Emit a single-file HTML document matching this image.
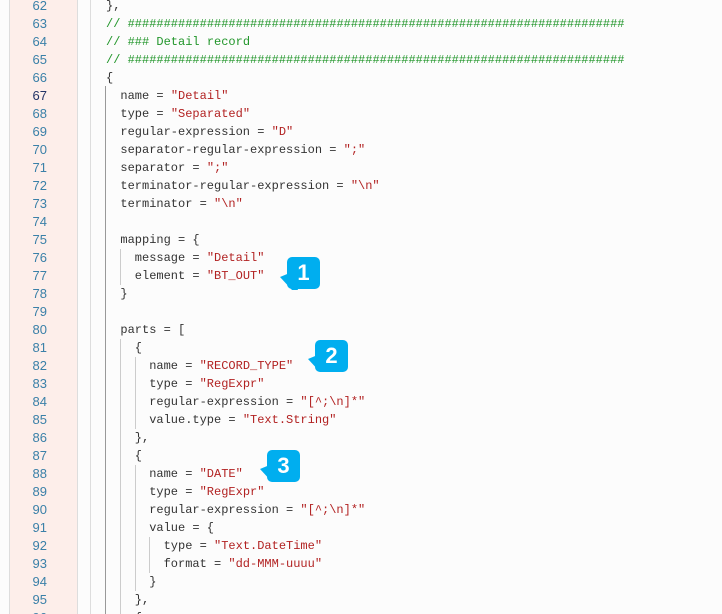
<!DOCTYPE html>
<html><head><meta charset="utf-8"><style>
html,body{margin:0;width:722px;height:614px;overflow:hidden;}
body{background:#fcfcfc;position:relative;font-family:"Liberation Mono","DejaVu Sans Mono",monospace;font-size:12px;}
.g{position:absolute;left:9px;top:0;width:67px;height:614px;background:#fdeeea;border-left:1px solid #ddd;border-right:1px solid #ddd;}
.n{position:absolute;left:0;width:47px;text-align:right;color:#3a80a8;height:18px;line-height:18px;font-family:"Liberation Sans",sans-serif;font-size:13px;}
.l{position:absolute;height:18px;line-height:18px;color:#333;white-space:pre;}
.s{color:#b22222}.c{color:#22962b}
.v{position:absolute;width:1px;background:#ccc;}
.b{position:absolute;width:33px;height:32px;background:#00aeef;border-radius:5px;color:#fff;font-family:"Liberation Sans",sans-serif;font-weight:bold;font-size:22px;text-align:center;line-height:32px;}
</style></head><body>
<div class="g"></div>
<div class="v" style="left:90px;top:0;height:614px;background:#ddd"></div>
<div class="v" style="left:105px;top:86px;height:528px;background:#999"></div>
<div class="v" style="left:120px;top:249px;height:36px"></div>
<div class="v" style="left:120px;top:339px;height:275px"></div>
<div class="v" style="left:135px;top:357px;height:72px"></div>
<div class="v" style="left:135px;top:465px;height:126px"></div>
<div class="v" style="left:149px;top:537px;height:36px"></div>
<div id="c"></div>
<script>
var L=[
[0,'},'],
[0,'<span class="c">// '+'#'.repeat(69)+'</span>'],
[0,'<span class="c">// ### Detail record</span>'],
[0,'<span class="c">// '+'#'.repeat(69)+'</span>'],
[0,'{'],
[1,'name = <span class="s">"Detail"</span>'],
[1,'type = <span class="s">"Separated"</span>'],
[1,'regular-expression = <span class="s">"D"</span>'],
[1,'separator-regular-expression = <span class="s">";"</span>'],
[1,'separator = <span class="s">";"</span>'],
[1,'terminator-regular-expression = <span class="s">"\\n"</span>'],
[1,'terminator = <span class="s">"\\n"</span>'],
[1,''],
[1,'mapping = {'],
[2,'message = <span class="s">"Detail"</span>'],
[2,'element = <span class="s">"BT_OUT"</span>'],
[1,'}'],
[1,''],
[1,'parts = ['],
[2,'{'],
[3,'name = <span class="s">"RECORD_TYPE"</span>'],
[3,'type = <span class="s">"RegExpr"</span>'],
[3,'regular-expression = <span class="s">"[^;\\n]*"</span>'],
[3,'value.type = <span class="s">"Text.String"</span>'],
[2,'},'],
[2,'{'],
[3,'name = <span class="s">"DATE"</span>'],
[3,'type = <span class="s">"RegExpr"</span>'],
[3,'regular-expression = <span class="s">"[^;\\n]*"</span>'],
[3,'value = {'],
[4,'type = <span class="s">"Text.DateTime"</span>'],
[4,'format = <span class="s">"dd-MMM-uuuu"</span>'],
[3,'}'],
[2,'},'],
[2,'{']
];
var h='';
for(var i=0;i<L.length;i++){var t=i*18-3;var n=62+i;
h+='<div class="n" style="top:'+t+'px;'+(n==67?'color:#223366;':'')+'">'+n+'</div>';
h+='<div class="l" style="top:'+t+'px;left:'+(106+L[i][0]*14.4)+'px">'+L[i][1]+'</div>';}
document.getElementById('c').innerHTML=h;
</script>
<svg style="position:absolute;left:0;top:0" width="722" height="614">
<polygon points="280,277 292,272 298,290 292,290" fill="#00aeef"/>
<polygon points="308,359 320,354 326,372 320,372" fill="#00aeef"/>
<polygon points="260,469 272,464 278,482 272,482" fill="#00aeef"/>
</svg>
<div class="b" style="left:287px;top:257px">1</div>
<div class="b" style="left:315px;top:340px">2</div>
<div class="b" style="left:267px;top:450px">3</div>
</body></html>
